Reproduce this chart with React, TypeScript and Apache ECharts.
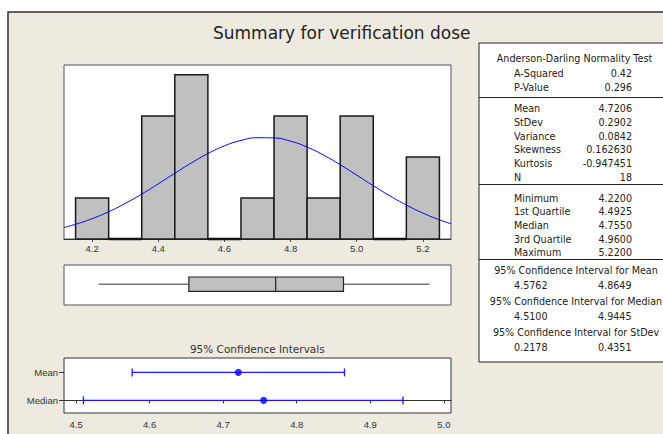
import React, { useEffect, useRef } from "react";
import * as echarts from "echarts";

// ---------- data ----------
const binCenters = [4.2, 4.3, 4.4, 4.5, 4.6, 4.7, 4.8, 4.9, 5.0, 5.1, 5.2];
const binCounts = [1, 0, 3, 4, 0, 1, 3, 1, 3, 0, 2];
const binWidth = 0.1;
const histTicks = [4.2, 4.4, 4.6, 4.8, 5.0, 5.2];

const curveX = [4.115, 4.15, 4.2, 4.25, 4.3, 4.35, 4.4, 4.45, 4.5, 4.55, 4.6, 4.65, 4.7, 4.75, 4.8, 4.85, 4.9, 4.95, 5.0, 5.05, 5.1, 5.15, 5.2, 5.25, 5.285];
const curveY = [0.28, 0.358, 0.495, 0.664, 0.866, 1.095, 1.344, 1.602, 1.853, 2.082, 2.27, 2.402, 2.468, 2.462, 2.384, 2.24, 2.044, 1.811, 1.557, 1.299, 1.053, 0.828, 0.632, 0.468, 0.373];

const boxStats = [4.22, 4.4925, 4.755, 4.96, 5.22]; // min, Q1, median, Q3, max

const ciLabels = ["Mean", "Median"];
const ciCenter = [4.7206, 4.755];
const ciLow = [4.5762, 4.51];
const ciHigh = [4.8649, 4.9445];
const ciTicks = [4.5, 4.6, 4.7, 4.8, 4.9, 5.0];

const titleText = "Summary for verification dose";
const ciTitleText = "95% Confidence Intervals";
const adHeader = "Anderson-Darling Normality Test";
const adLabels = ["A-Squared", "P-Value"];
const adValues = ["0.42", "0.296"];
const descLabels = ["Mean", "StDev", "Variance", "Skewness", "Kurtosis", "N"];
const descValues = ["4.7206", "0.2902", "0.0842", "0.162630", "-0.947451", "18"];
const quartLabels = ["Minimum", "1st Quartile", "Median", "3rd Quartile", "Maximum"];
const quartValues = ["4.2200", "4.4925", "4.7550", "4.9600", "5.2200"];
const ciTableTitles = [
  "95% Confidence Interval for Mean",
  "95% Confidence Interval for Median",
  "95% Confidence Interval for StDev",
];
const ciTableLow = ["4.5762", "4.5100", "0.2178"];
const ciTableHigh = ["4.8649", "4.9445", "0.4351"];

// ---------- helpers ----------
const TFONT = "DejaVu Sans";
const txt = (text: string, x: number, y: number, align = "left", size = 9.6, fill = "#222") => ({
  type: "text",
  x,
  y,
  silent: true,
  style: {
    text,
    fill,
    fontSize: size,
    fontFamily: TFONT,
    align,
    textAlign: align,
    verticalAlign: "middle",
    textVerticalAlign: "middle",
  },
});
const hline = (x1: number, x2: number, y: number, w = 1, c = "#222") => ({
  type: "line",
  silent: true,
  shape: { x1, y1: y, x2, y2: y },
  style: { stroke: c, lineWidth: w },
});

export default function App() {
  const ref = useRef<HTMLDivElement>(null);
  useEffect(() => {
    if (!ref.current) return;
    const chart = echarts.init(ref.current, undefined, { renderer: "svg" });

    const graphics: any[] = [];
    // white outside margin + outer frame
    graphics.push({ type: "rect", silent: true, shape: { x: 0, y: 0, width: 663, height: 12 }, style: { fill: "#fff" } });
    graphics.push({ type: "rect", silent: true, shape: { x: 0, y: 0, width: 8, height: 434 }, style: { fill: "#fff" } });
    graphics.push({ type: "polyline", silent: true, shape: { points: [[8, 440], [8, 12], [670, 12]] }, style: { stroke: "#333", lineWidth: 1.5, fill: null } });
    // title
    graphics.push(txt(titleText, 341.7, 32.5, "center", 17, "#222"));
    // table
    const tL = 479, tR = 680;
    graphics.push({ type: "rect", silent: true, shape: { x: tL, y: 43, width: tR - tL, height: 319 }, style: { fill: "#fff", stroke: "#222", lineWidth: 1 } });
    graphics.push(hline(tL, tR, 97.5));
    graphics.push(hline(tL, tR, 184.5));
    graphics.push(hline(tL, tR, 259.5));
    const lx = 514, vx = 632;
    graphics.push(txt(adHeader, 574.5, 58, "center"));
    adLabels.forEach((l, i) => {
      graphics.push(txt(l, lx, 73.5 + i * 14, "left"));
      graphics.push(txt(adValues[i], vx, 73.5 + i * 14, "right"));
    });
    descLabels.forEach((l, i) => {
      graphics.push(txt(l, lx, 108.7 + i * 13.7, "left"));
      graphics.push(txt(descValues[i], vx, 108.7 + i * 13.7, "right"));
    });
    quartLabels.forEach((l, i) => {
      graphics.push(txt(l, lx, 198 + i * 13.7, "left"));
      graphics.push(txt(quartValues[i], vx, 198 + i * 13.7, "right"));
    });
    ciTableTitles.forEach((t, i) => {
      graphics.push(txt(t, 576, 270 + i * 31, "center"));
      graphics.push(txt(ciTableLow[i], lx, 285.5 + i * 31, "left"));
      graphics.push(txt(ciTableHigh[i], 598, 285.5 + i * 31, "left"));
    });
    // CI plot title
    graphics.push(txt(ciTitleText, 257.3, 349.3, "center", 10.5, "#333"));

    const axisLabelStyle = { fontFamily: "Liberation Sans", fontSize: 9.5, color: "#333" };
    const ciY = ciLabels.map((_, i) => ciLabels.length - 1 - i);

    const option: any = {
      animation: false,
      backgroundColor: "#EEEAE0",
      grid: [
        { left: 64, top: 65, width: 387, height: 174, show: true, backgroundColor: "#fff", borderColor: "#555", borderWidth: 1, outerBoundsMode: "none" },
        { left: 64, top: 265, width: 387, height: 40, show: true, backgroundColor: "#fff", borderColor: "#555", borderWidth: 1, outerBoundsMode: "none" },
        { left: 64, top: 358, width: 387, height: 55, show: true, backgroundColor: "#fff", borderColor: "#333", borderWidth: 1, outerBoundsMode: "none" },
      ],
      xAxis: [
        {
          gridIndex: 0, type: "value", min: 4.115, max: 5.285,
          axisLine: { show: true, lineStyle: { color: "#333", width: 1 } },
          axisTick: { show: true, customValues: histTicks, length: 3, lineStyle: { color: "#555" } },
          axisLabel: { show: true, customValues: histTicks, formatter: (v: number) => v.toFixed(1), margin: 4, ...axisLabelStyle },
          splitLine: { show: false },
        },
        { gridIndex: 1, type: "value", min: 4.115, max: 5.285, show: false },
        {
          gridIndex: 2, type: "value", min: 4.4836, max: 5.0097,
          axisLine: { show: true, lineStyle: { color: "#333", width: 1 } },
          axisTick: { show: true, customValues: ciTicks, length: 3, lineStyle: { color: "#333" } },
          axisLabel: { show: true, customValues: ciTicks, formatter: (v: number) => v.toFixed(1), margin: 6, ...axisLabelStyle },
          splitLine: { show: false },
        },
      ],
      yAxis: [
        { gridIndex: 0, type: "value", min: 0, max: 4.24, show: false },
        { gridIndex: 1, type: "value", min: 0, max: 1, show: false },
        {
          gridIndex: 2, type: "value", min: -0.45, max: 1.514,
          axisLine: { show: false },
          axisTick: { show: true, customValues: ciY, length: 5, lineStyle: { color: "#333" } },
          axisLabel: {
            show: true, customValues: ciY, margin: 6,
            formatter: (v: number) => ciLabels[ciLabels.length - 1 - Math.round(v)] ?? "",
            ...axisLabelStyle,
          },
          splitLine: { show: false },
        },
      ],
      graphic: { elements: graphics },
      series: [
        {
          type: "custom",
          xAxisIndex: 0, yAxisIndex: 0,
          clip: false,
          data: binCenters.map((c, i) => [c, binCounts[i]]),
          renderItem: (params: any, api: any) => {
            const c = api.value(0), n = api.value(1);
            const p0 = api.coord([c - binWidth / 2, n]);
            const p1 = api.coord([c + binWidth / 2, 0]);
            if (n > 0) {
              return {
                type: "rect",
                shape: { x: p0[0], y: p0[1], width: p1[0] - p0[0], height: p1[1] - p0[1] },
                style: { fill: "#C0C0C0", stroke: "#1a1a1a", lineWidth: 1.5 },
              };
            }
            return {
              type: "line",
              shape: { x1: p0[0], y1: p1[1], x2: p1[0], y2: p1[1] },
              style: { stroke: "#111", lineWidth: 2.5 },
            };
          },
          z: 2,
        },
        {
          type: "line",
          xAxisIndex: 0, yAxisIndex: 0,
          data: curveX.map((x, i) => [x, curveY[i]]),
          smooth: true,
          showSymbol: false,
          symbol: "none",
          lineStyle: { color: "#0000FF", width: 1 },
          z: 5,
        },
        {
          type: "custom",
          xAxisIndex: 1, yAxisIndex: 1,
          clip: false,
          data: [boxStats],
          encode: { x: [0, 1, 2, 3, 4] },
          renderItem: (params: any, api: any) => {
            const mn = api.value(0), q1 = api.value(1), md = api.value(2), q3 = api.value(3), mx = api.value(4);
            const yc = 0.52, h = 0.18;
            const pMin = api.coord([mn, yc]);
            const pQ1 = api.coord([q1, yc]);
            const pMd = api.coord([md, yc]);
            const pQ3 = api.coord([q3, yc]);
            const pMax = api.coord([mx, yc]);
            const top = api.coord([q1, yc + h])[1];
            const bot = api.coord([q1, yc - h])[1];
            const st = { stroke: "#333", lineWidth: 1 };
            return {
              type: "group",
              children: [
                { type: "line", shape: { x1: pMin[0], y1: pMin[1], x2: pQ1[0], y2: pQ1[1] }, style: st },
                { type: "line", shape: { x1: pQ3[0], y1: pQ3[1], x2: pMax[0], y2: pMax[1] }, style: st },
                { type: "rect", shape: { x: pQ1[0], y: top, width: pQ3[0] - pQ1[0], height: bot - top }, style: { fill: "#C0C0C0", stroke: "#222", lineWidth: 1.2 } },
                { type: "line", shape: { x1: pMd[0], y1: top, x2: pMd[0], y2: bot }, style: { stroke: "#222", lineWidth: 1.2 } },
              ],
            };
          },
        },
        {
          type: "custom",
          xAxisIndex: 2, yAxisIndex: 2,
          clip: false,
          data: ciLabels.map((_, i) => [ciLow[i], ciHigh[i], ciY[i]]),
          encode: { x: [0, 1], y: 2 },
          renderItem: (params: any, api: any) => {
            const lo = api.coord([api.value(0), api.value(2)]);
            const hi = api.coord([api.value(1), api.value(2)]);
            const st = { stroke: "#1a1aff", lineWidth: 1.3 };
            const hh = 4;
            return {
              type: "group",
              children: [
                { type: "line", shape: { x1: lo[0], y1: lo[1], x2: hi[0], y2: hi[1] }, style: st },
                { type: "line", shape: { x1: lo[0], y1: lo[1] - hh, x2: lo[0], y2: lo[1] + hh }, style: st },
                { type: "line", shape: { x1: hi[0], y1: hi[1] - hh, x2: hi[0], y2: hi[1] + hh }, style: st },
              ],
            };
          },
        },
        {
          type: "scatter",
          xAxisIndex: 2, yAxisIndex: 2,
          data: ciLabels.map((_, i) => [ciCenter[i], ciY[i]]),
          symbol: "circle",
          symbolSize: 7,
          itemStyle: { color: "#0000FF" },
          z: 5,
        },
      ],
    };
    chart.setOption(option);
    return () => chart.dispose();
  }, []);

  return (
    <div
      ref={ref}
      style={{ position: "absolute", left: 0, top: 0, width: 663, height: 434 }}
    />
  );
}
